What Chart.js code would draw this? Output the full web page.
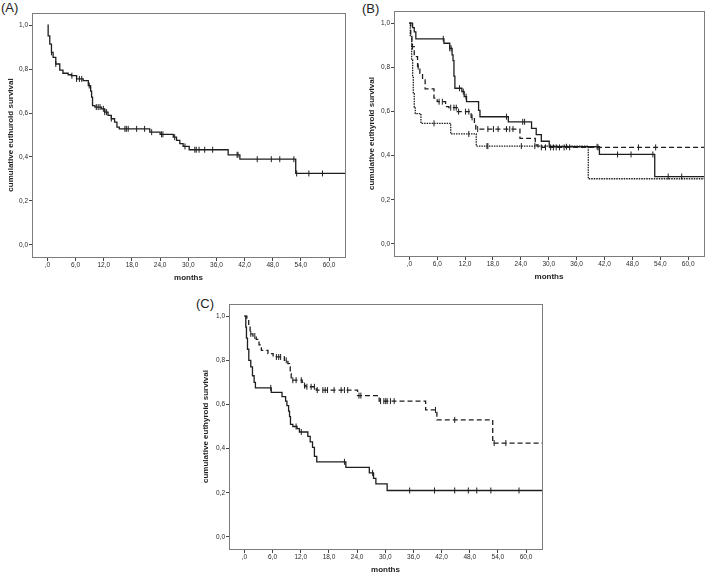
<!DOCTYPE html>
<html>
<head>
<meta charset="utf-8">
<script src="https://cdn.jsdelivr.net/npm/chart.js@4.4.1/dist/chart.umd.min.js"></script>
<style>
  body { margin: 0; background: #fff; width: 709px; height: 574px; overflow: hidden; position: relative;
         font-family: "Liberation Sans", Arial, sans-serif; }
  canvas { position: absolute; }
  .tag { position: absolute; font-size: 13px; line-height: 13px; color: #222; }
</style>
</head>
<body>
<div class="tag" style="left:1px;top:1px">(A)</div>
<div class="tag" style="left:362px;top:2px">(B)</div>
<div class="tag" style="left:196px;top:297px">(C)</div>
<canvas id="chartA" width="350" height="290" style="left:0;top:0"></canvas>
<canvas id="chartB" width="349" height="290" style="left:360px;top:0"></canvas>
<canvas id="chartC" width="360" height="295" style="left:190px;top:285px"></canvas>
<script>
// axis ticks
const xTicks = [0, 6, 12, 18, 24, 30, 36, 42, 48, 54, 60];
const xTickLabels = [',0', '6,0', '12,0', '18,0', '24,0', '30,0', '36,0', '42,0', '48,0', '54,0', '60,0'];
const yTicks = [0, 0.2, 0.4, 0.6, 0.8, 1.0];
const yTickLabels = ['0,0', '0,2', '0,4', '0,6', '0,8', '1,0'];

// (A) all patients
const aTimes = [0, 0.14, 0.49, 0.85, 1.2, 1.77, 2.62, 3.3, 4.4, 5.1, 6.2, 7.6, 8.7, 9.2, 9.4, 9.6, 10.1, 11.5, 12.2, 12.9, 13.6, 14.3, 14.8, 15.3, 21.8, 24.0, 26.8, 27.5, 28.2, 28.9, 30.2, 38.5, 41.0, 52.9, 64];
const aSurv = [1.0, 0.951, 0.913, 0.876, 0.853, 0.823, 0.795, 0.781, 0.774, 0.77, 0.755, 0.747, 0.725, 0.70, 0.672, 0.634, 0.627, 0.619, 0.604, 0.589, 0.574, 0.559, 0.536, 0.528, 0.513, 0.503, 0.49, 0.476, 0.461, 0.448, 0.433, 0.41, 0.39, 0.325, 0.325];
const aCensor = [0.85, 1.77, 5.2, 6.2, 6.8, 7.3, 8.9, 10.4, 10.8, 11.2, 11.9, 12.2, 12.6, 13.6, 16.5, 16.8, 17.2, 19.0, 20.7, 22.2, 24.3, 24.6, 27.1, 29.3, 31.4, 31.7, 32.3, 33.5, 35.2, 40.4, 40.6, 44.7, 47.7, 49.5, 52.5, 53.1, 55.7, 58.6];

// (B) three groups
const bSolidTimes = [0, 0.7, 1.06, 1.4, 7.45, 8.7, 9.2, 9.4, 9.6, 9.8, 11.3, 11.8, 12.3, 14.9, 15.2, 21.3, 26.3, 27.3, 28.4, 30.1, 40.9, 52.8, 64];
const bSolidSurv = [1.0, 0.98, 0.96, 0.929, 0.909, 0.886, 0.856, 0.83, 0.76, 0.705, 0.69, 0.667, 0.644, 0.605, 0.576, 0.553, 0.523, 0.495, 0.465, 0.44, 0.405, 0.305, 0.305];
const bSolidCensor = [7.3, 8.7, 9.0, 10.8, 11.6, 12.2, 20.9, 24.4, 24.8, 33.8, 40.4, 44.8, 47.7, 52.4, 55.7, 58.6];

const bDashedTimes = [0, 0.3, 0.56, 1.06, 1.77, 2.27, 2.84, 3.4, 5.3, 6.0, 7.8, 8.5, 10.3, 13.3, 14.0, 14.3, 23.8, 27.1, 27.7, 64];
const bDashedSurv = [1.0, 0.95, 0.894, 0.848, 0.803, 0.773, 0.743, 0.702, 0.66, 0.644, 0.622, 0.617, 0.599, 0.573, 0.546, 0.52, 0.478, 0.448, 0.437, 0.437];
const bDashedCensor = [0.7, 1.9, 6.4, 7.1, 8.9, 9.6, 10.1, 10.6, 12.1, 12.8, 13.5, 14.7, 16.9, 18.1, 19.1, 20.9, 21.6, 22.3, 28.4, 29.3, 30.4, 31.0, 31.6, 32.3, 33.3, 34.5, 40.6, 49.3, 53.0];

const bDottedTimes = [0, 0.2, 0.5, 0.71, 0.85, 1.06, 1.28, 2.5, 8.9, 14.4, 38.5, 64];
const bDottedSurv = [1.0, 0.94, 0.833, 0.758, 0.68, 0.62, 0.59, 0.546, 0.498, 0.443, 0.295, 0.295];
const bDottedCensor = [5.3, 12.8, 16.7, 16.9, 24.1, 27.0];

// (C) two groups
const cSolidTimes = [0, 0.28, 0.42, 0.64, 0.92, 1.34, 1.7, 2.05, 2.33, 5.7, 8.0, 8.76, 9.04, 9.4, 9.6, 9.8, 10.3, 11.2, 11.7, 13.5, 14.0, 14.5, 14.9, 15.4, 21.6, 26.6, 27.5, 28.0, 30.4, 64];
const cSolidSurv = [1.0, 0.95, 0.9, 0.85, 0.8, 0.77, 0.73, 0.70, 0.675, 0.655, 0.635, 0.615, 0.595, 0.57, 0.545, 0.51, 0.50, 0.49, 0.475, 0.455, 0.43, 0.405, 0.365, 0.34, 0.315, 0.29, 0.265, 0.24, 0.21, 0.21];
const cSolidCensor = [5.6, 11.0, 12.1, 21.3, 27.3, 35.2, 40.5, 44.8, 47.7, 49.5, 52.5, 58.5];

const cDashedTimes = [0, 0.5, 0.9, 1.2, 1.8, 2.5, 3.1, 3.6, 5.0, 6.1, 8.5, 9.25, 9.6, 9.75, 9.96, 12.3, 12.8, 13.1, 15.3, 24.1, 28.7, 38.6, 41.0, 52.9, 64];
const cDashedSurv = [1.0, 0.98, 0.96, 0.92, 0.91, 0.895, 0.87, 0.845, 0.83, 0.815, 0.80, 0.785, 0.77, 0.74, 0.71, 0.70, 0.685, 0.68, 0.665, 0.64, 0.615, 0.575, 0.53, 0.425, 0.425];
const cDashedCensor = [1.34, 2.2, 6.8, 7.3, 7.7, 8.9, 10.3, 11.0, 12.1, 12.8, 13.3, 14.2, 14.9, 15.5, 16.7, 17.2, 17.7, 19.1, 20.6, 21.3, 22.0, 24.4, 24.8, 29.0, 29.7, 30.1, 30.4, 31.1, 31.9, 40.7, 44.8, 53.2, 55.7];

Chart.defaults.font.family = '"Liberation Sans", Arial, sans-serif';

const LINE = '#1e1e1e';

function stepPoints(times, surv) {
    return times.map((t, i) => ({x: t, y: surv[i]}));
}

// censored cases sit on the curve at their time
function censorPoints(censor, times, surv) {
    return censor.map(c => {
        let s = surv[0];
        for (let i = 0; i < times.length; i++) {
            if (times[i] <= c) s = surv[i];
        }
        return {x: c, y: s};
    });
}

function curve(times, surv, censor, dash) {
    return [
        {
            data: stepPoints(times, surv),
            stepped: true,
            borderColor: LINE,
            borderWidth: 1.3,
            borderDash: dash,
            pointRadius: 0,
            fill: false
        },
        {
            data: censorPoints(censor, times, surv),
            showLine: false,
            pointStyle: 'line',
            rotation: 90,
            pointRadius: 3,
            pointBorderWidth: 1,
            pointBorderColor: LINE,
            borderColor: LINE
        }
    ];
}

const frame = {
    id: 'frame',
    afterDraw(chart) {
        const a = chart.chartArea;
        const c = chart.ctx;
        c.save();
        c.strokeStyle = '#7c7c7c';
        c.lineWidth = 1;
        c.strokeRect(Math.round(a.left) + 0.5, Math.round(a.top) + 0.5,
                     Math.round(a.right - a.left), Math.round(a.bottom - a.top));
        c.restore();
    }
};

function makePanel(id, g, yTitle, datasets) {
    new Chart(document.getElementById(id), {
        type: 'line',
        data: {datasets: datasets},
        options: {
            responsive: false,
            animation: false,
            layout: {padding: {top: g.top, right: g.right, left: 0, bottom: 0}},
            plugins: {legend: {display: false}, tooltip: {enabled: false}},
            scales: {
                x: {
                    type: 'linear',
                    min: -3.3,
                    max: 63.4,
                    afterBuildTicks: s => { s.ticks = xTicks.map(v => ({value: v})); },
                    afterFit: s => { s.height = g.xh; },
                    ticks: {
                        callback: (v, i) => xTickLabels[i],
                        font: {size: 6.5},
                        color: '#2a2a2a',
                        padding: 0,
                        maxRotation: 0,
                        autoSkip: false
                    },
                    grid: {drawOnChartArea: false, drawTicks: true, tickLength: 4, color: '#444'},
                    border: {display: false},
                    title: {
                        display: true,
                        text: 'months',
                        font: {size: 8, weight: 'bold'},
                        color: '#1e1e1e',
                        padding: {top: 0, bottom: g.xPad}
                    }
                },
                y: {
                    type: 'linear',
                    min: -0.055,
                    max: 1.055,
                    afterBuildTicks: s => { s.ticks = yTicks.map(v => ({value: v})); },
                    afterFit: s => { s.width = g.yw; },
                    ticks: {
                        callback: (v, i) => yTickLabels[i],
                        font: {size: 6.5},
                        color: '#2a2a2a',
                        padding: 1
                    },
                    grid: {drawOnChartArea: false, drawTicks: true, tickLength: 3, color: '#444'},
                    border: {display: false},
                    title: {
                        display: true,
                        text: yTitle,
                        font: {size: 8, weight: 'bold'},
                        color: '#1e1e1e',
                        padding: {top: g.yPad, bottom: 0}
                    }
                }
            }
        },
        plugins: [frame]
    });
}

makePanel('chartA', {top: 13, right: 5, yw: 32, xh: 33, yPad: 6.2, xPad: 7.2},
    'cumulative euthuroid survival',
    curve(aTimes, aSurv, aCensor, []));

makePanel('chartB', {top: 11, right: 2, yw: 34, xh: 34, yPad: 7.2, xPad: 8.5},
    'cumulative euthyroid survival',
    [].concat(
        curve(bDottedTimes, bDottedSurv, bDottedCensor, [1.5, 1]),
        curve(bDashedTimes, bDashedSurv, bDashedCensor, [5, 3]),
        curve(bSolidTimes, bSolidSurv, bSolidCensor, [])
    ));

makePanel('chartC', {top: 19, right: 8, yw: 39, xh: 31, yPad: 11.2, xPad: 5.2},
    'cumulative euthyroid survival',
    [].concat(
        curve(cDashedTimes, cDashedSurv, cDashedCensor, [5, 3]),
        curve(cSolidTimes, cSolidSurv, cSolidCensor, [])
    ));
</script>
</body>
</html>
